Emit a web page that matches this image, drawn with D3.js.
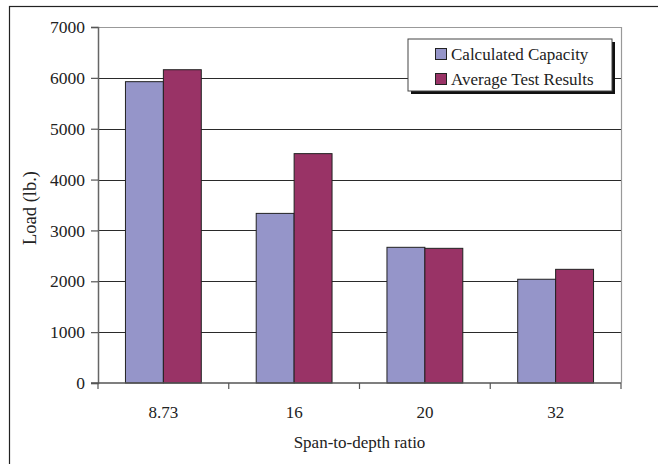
<!DOCTYPE html>
<html>
<head>
<meta charset="utf-8">
<script src="https://cdn.jsdelivr.net/npm/d3@7"></script>
<style>
  html, body { margin: 0; padding: 0; background: #fff; }
  svg { display: block; font-family: "Liberation Serif", "Times New Roman", serif; }
</style>
</head>
<body>
<svg id="chart" width="658" height="464"></svg>
<script>
// Span-to-depth ratio categories
const categories = ["8.73", "16", "20", "32"];
// Load values (lb.) for each series
const calculatedCapacity = [5925, 3335, 2668, 2040];
const averageTestResults = [6160, 4510, 2648, 2235];
const seriesNames = ["Calculated Capacity", "Average Test Results"];
const seriesColors = ["#9595c9", "#993366"];
const yTicks = [0, 1000, 2000, 3000, 4000, 5000, 6000, 7000];

const svg = d3.select("#chart");
const margin = { left: 98, top: 27, right: 621, bottom: 383 };

// Outer frame
svg.append("rect")
  .attr("x", 9.5).attr("y", 6.5)
  .attr("width", 700).attr("height", 500)
  .attr("fill", "none").attr("stroke", "#222").attr("stroke-width", 1.2);

const x = d3.scaleBand().domain(categories).range([margin.left, margin.right]);
const y = d3.scaleLinear().domain([0, 7000]).range([margin.bottom, margin.top]);

const barW = x.bandwidth() * 0.29;
const inner = d3.scaleBand().domain([0, 1]).range([0, barW * 2]);

// Plot area border (top and right)
svg.append("path")
  .attr("d", `M${margin.left},${y(7000) + 0.5}H${margin.right + 0.5}V${margin.bottom}`)
  .attr("fill", "none").attr("stroke", "#999").attr("stroke-width", 1.2);

// Horizontal gridlines
svg.append("g").selectAll("line")
  .data(yTicks.filter(d => d > 0 && d < 7000))
  .join("line")
  .attr("x1", margin.left).attr("x2", margin.right)
  .attr("y1", d => Math.round(y(d)) + 0.5).attr("y2", d => Math.round(y(d)) + 0.5)
  .attr("stroke", "#2a2a2a").attr("stroke-width", 1);

// Bars
const series = [calculatedCapacity, averageTestResults];
const groups = svg.append("g");
series.forEach((vals, si) => {
  groups.append("g").selectAll("rect")
    .data(categories.map((c, i) => ({ c, v: vals[i] })))
    .join("rect")
    .attr("x", d => x(d.c) + (x.bandwidth() - barW * 2) / 2 + inner(si))
    .attr("y", d => y(d.v))
    .attr("width", barW)
    .attr("height", d => y(0) - y(d.v))
    .attr("fill", seriesColors[si])
    .attr("stroke", "#222").attr("stroke-width", 1);
});

// Y axis
const yAxis = d3.axisLeft(y).tickValues(yTicks).tickFormat(d3.format("d"))
  .tickSize(7).tickPadding(6);
const gy = svg.append("g").attr("transform", `translate(${margin.left},0)`).call(yAxis);
gy.select(".domain").attr("stroke", "#666").attr("stroke-width", 1.5);
gy.selectAll(".tick line").attr("stroke", "#555").attr("stroke-width", 1.2);
gy.selectAll(".tick text").attr("font-size", 17.5).attr("fill", "#222")
  .attr("font-family", "Liberation Serif");

// X axis with ticks between categories
const xTickPos = d3.range(categories.length + 1).map(i => margin.left + i * x.step());
const gx = svg.append("g");
gx.append("line")
  .attr("x1", margin.left - 7).attr("x2", margin.right)
  .attr("y1", y(0)).attr("y2", y(0))
  .attr("stroke", "#555").attr("stroke-width", 1.5);
gx.selectAll("line.t").data(xTickPos).join("line").attr("class", "t")
  .attr("x1", d => d).attr("x2", d => d)
  .attr("y1", y(0)).attr("y2", y(0) + 6)
  .attr("stroke", "#555").attr("stroke-width", 1.2);
gx.selectAll("text").data(categories).join("text")
  .attr("x", d => x(d) + x.bandwidth() / 2)
  .attr("y", y(0) + 35)
  .attr("text-anchor", "middle")
  .attr("font-size", 17).attr("fill", "#222")
  .text(d => d);

// Axis titles
svg.append("text")
  .attr("x", (margin.left + margin.right) / 2).attr("y", 448)
  .attr("text-anchor", "middle").attr("font-size", 17).attr("fill", "#222")
  .text("Span-to-depth ratio");
svg.append("text")
  .attr("transform", `translate(36,208) rotate(-90)`)
  .attr("text-anchor", "middle").attr("font-size", 18.5).attr("fill", "#222")
  .text("Load (lb.)");

// Legend with drop shadow
const lg = svg.append("g").attr("transform", "translate(408,39)");
lg.append("rect").attr("x", 3).attr("y", 3).attr("width", 204).attr("height", 52).attr("fill", "#111");
lg.append("rect").attr("x", 0).attr("y", 0).attr("width", 204).attr("height", 52)
  .attr("fill", "#fff").attr("stroke", "#444").attr("stroke-width", 1);
seriesNames.forEach((name, i) => {
  const cy = 15 + i * 25;
  lg.append("rect").attr("x", 27.5).attr("y", cy - 5.5).attr("width", 11).attr("height", 11)
    .attr("fill", seriesColors[i]).attr("stroke", "#222").attr("stroke-width", 1);
  lg.append("text").attr("x", 43).attr("y", cy + 6)
    .attr("font-size", 17).attr("fill", "#222").text(name);
});
</script>
</body>
</html>
